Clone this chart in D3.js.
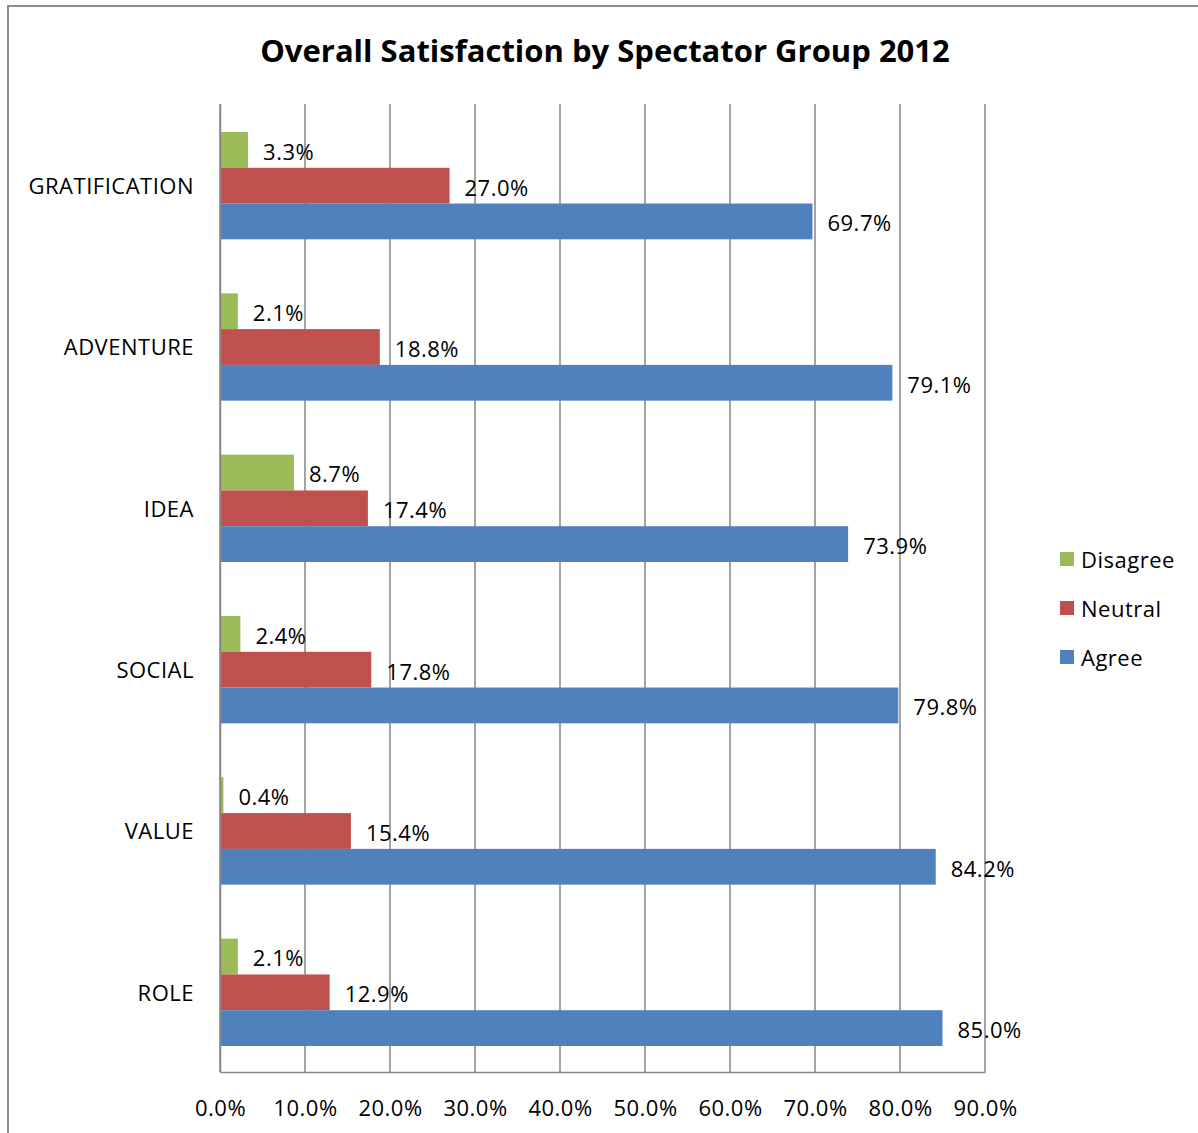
<!DOCTYPE html>
<html>
<head>
<meta charset="utf-8">
<script src="https://cdn.jsdelivr.net/npm/d3@7"></script>
<style>
  html, body { margin: 0; padding: 0; background: #fff; }
  svg { display: block; }
</style>
</head>
<body>
<svg id="chart" width="1198" height="1133"></svg>
<script>
// Survey groups, top to bottom
const categories = ["GRATIFICATION", "ADVENTURE", "IDEA", "SOCIAL", "VALUE", "ROLE"];
// Series order within each group (top to bottom)
const seriesNames = ["Disagree", "Neutral", "Agree"];
const disagree = [3.3, 2.1, 8.7, 2.4, 0.4, 2.1];
const neutral  = [27.0, 18.8, 17.4, 17.8, 15.4, 12.9];
const agree    = [69.7, 79.1, 73.9, 79.8, 84.2, 85.0];
const tickValues = [0, 10, 20, 30, 40, 50, 60, 70, 80, 90];
const colors = { Disagree: "#9bbb59", Neutral: "#c0504d", Agree: "#4f81bd" };

const seriesValues = { Disagree: disagree, Neutral: neutral, Agree: agree };
const font = "Open Sans, Liberation Sans, sans-serif";
const labelSize = 22;
const labelSpacing = "0.5px";

const svg = d3.select("#chart");

// Frame
svg.append("path")
  .attr("d", "M8,1133 L8,6 L1198,6")
  .attr("fill", "none")
  .attr("stroke", "#8c8c8c")
  .attr("stroke-width", 2);

// Title
svg.append("text")
  .attr("x", 605).attr("y", 62)
  .attr("text-anchor", "middle")
  .attr("font-family", font)
  .attr("font-weight", "bold")
  .attr("font-size", 31)
  .attr("fill", "#000")
  .text("Overall Satisfaction by Spectator Group 2012");

const plot = { left: 220, right: 985, top: 104, bottom: 1072 };

const x = d3.scaleLinear().domain([0, 90]).range([plot.left, plot.right]);
const y = d3.scaleBand().domain(categories).range([plot.top, plot.bottom]).paddingInner(0.335).paddingOuter(0.1675);
const ySub = d3.scaleBand().domain(seriesNames).range([0, y.bandwidth()]);

// Vertical gridlines
svg.append("g")
  .selectAll("line")
  .data(tickValues)
  .join("line")
  .attr("x1", d => x(d)).attr("x2", d => x(d))
  .attr("y1", plot.top).attr("y2", plot.bottom)
  .attr("stroke", "#868686")
  .attr("stroke-width", 1.5);

// Bars
const groups = svg.append("g")
  .selectAll("g")
  .data(categories)
  .join("g")
  .attr("transform", d => `translate(0,${y(d) + 1})`);

groups.selectAll("rect")
  .data((c, i) => seriesNames.map(s => ({ s, v: seriesValues[s][i] })))
  .join("rect")
  .attr("x", x(0))
  .attr("y", d => ySub(d.s))
  .attr("width", d => x(d.v) - x(0))
  .attr("height", ySub.bandwidth())
  .attr("fill", d => colors[d.s]);

// Value labels
groups.selectAll("text")
  .data((c, i) => seriesNames.map(s => ({ s, v: seriesValues[s][i] })))
  .join("text")
  .attr("x", d => x(d.v) + 15)
  .attr("y", d => ySub(d.s) + ySub.bandwidth() / 2 + 2)
  .attr("dy", "0.36em")
  .attr("font-family", font)
  .attr("font-size", labelSize)
  .attr("letter-spacing", labelSpacing)
  .attr("fill", "#000")
  .text(d => d.v.toFixed(1) + "%");

// Category axis
const yAxis = svg.append("g")
  .attr("transform", `translate(${plot.left},0)`)
  .call(d3.axisLeft(y).tickSize(0).tickPadding(26));
yAxis.select(".domain").attr("stroke", "#868686").attr("stroke-width", 1.5);
yAxis.selectAll("text")
  .attr("font-family", font)
  .attr("font-size", labelSize)
  .attr("letter-spacing", labelSpacing)
  .attr("dy", "0.42em")
  .attr("fill", "#000");

// Value axis
const xAxis = svg.append("g")
  .attr("transform", `translate(0,${plot.bottom})`)
  .call(d3.axisBottom(x).tickValues(tickValues).tickSize(0).tickPadding(28)
    .tickFormat(d => d.toFixed(1) + "%"));
xAxis.select(".domain").attr("stroke", "#868686").attr("stroke-width", 1.5);
xAxis.selectAll("text")
  .attr("font-family", font)
  .attr("font-size", labelSize)
  .attr("letter-spacing", labelSpacing)
  .attr("fill", "#000");

// Legend
const legend = svg.append("g")
  .selectAll("g")
  .data(seriesNames)
  .join("g")
  .attr("transform", (d, i) => `translate(1060,${559 + i * 49})`);
legend.append("rect")
  .attr("x", 0).attr("y", -7)
  .attr("width", 14).attr("height", 14)
  .attr("fill", d => colors[d]);
legend.append("text")
  .attr("x", 21).attr("y", 1)
  .attr("dy", "0.36em")
  .attr("font-family", font)
  .attr("font-size", labelSize)
  .attr("letter-spacing", labelSpacing)
  .attr("fill", "#000")
  .text(d => d);
</script>
</body>
</html>
